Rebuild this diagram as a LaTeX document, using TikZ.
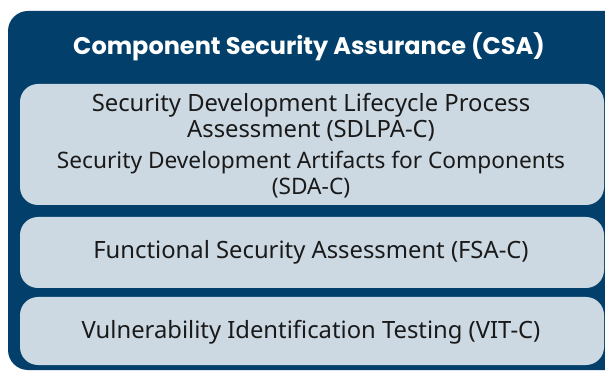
\documentclass[tikz,border=0pt]{standalone}
\usepackage{fontspec}
\setmainfont{Noto Sans}
\newfontfamily\titlefont{Poppins}
\definecolor{navy}{HTML}{023F6A}
\definecolor{pale}{HTML}{CDD9E2}
\definecolor{ink}{HTML}{1A1A1A}
\tikzset{
  outerbox/.style={fill=navy, rounded corners=20pt},
  itembox/.style={fill=pale, rounded corners=18pt},
  itemtext/.style={font=\fontsize{23.8}{26}\selectfont, text=ink, align=center, inner sep=0pt},
  smalltext/.style={itemtext, font=\fontsize{22.7}{26}\selectfont},
  titletext/.style={font=\titlefont\bfseries\fontsize{24}{28}\selectfont, text=white, inner sep=0pt}
}
\begin{document}
\begin{tikzpicture}[x=1pt,y=-1pt]
\useasboundingbox (0,0) rectangle (605,371);
\clip (0,0) rectangle (605,371);
\fill[outerbox] (8,11) rectangle (640,370);
\node[titletext] (title) at (309,47) {Component Security Assurance (CSA)};
\fill[itembox] (20,84) rectangle (604,205);
\fill[itembox] (20,217) rectangle (604,288);
\fill[itembox] (20,297) rectangle (604,365);
\node[itemtext] (sdlpa) at (311,117) {Security Development Lifecycle Process\\Assessment (SDLPA-C)};
\node[smalltext] (sda) at (311,175) {Security Development Artifacts for Components\\(SDA-C)};
\node[itemtext] (fsa) at (311,252.5) {Functional Security Assessment (FSA-C)};
\node[itemtext] (vit) at (311,332.5) {Vulnerability Identification Testing (VIT-C)};
\end{tikzpicture}
\end{document}
